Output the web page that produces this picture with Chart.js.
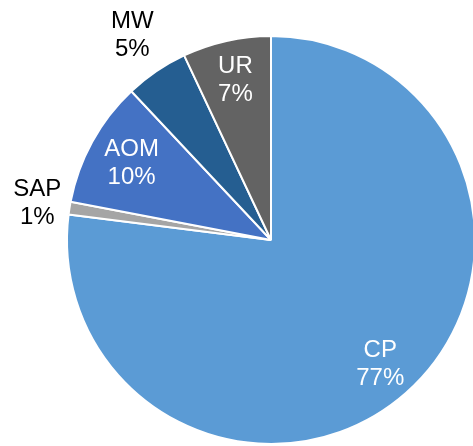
<!DOCTYPE html>
<html>
<head>
<meta charset="utf-8">
<script src="https://cdn.jsdelivr.net/npm/chart.js@4/dist/chart.umd.min.js"></script>
<style>
  html, body { margin: 0; padding: 0; background: #fff; overflow: hidden; }
  #wrap { position: absolute; left: 0; top: 0; width: 542px; height: 480px; }
</style>
</head>
<body>
<div id="wrap"><canvas id="mycanvas" width="542" height="480"></canvas></div>
<script>
var labels = ['CP', 'SAP', 'AOM', 'MW', 'UR'];
var shares = [77, 1, 10, 5, 7];
var colors = ['#5B9BD5', '#A5A5A5', '#4472C4', '#255E91', '#636363'];

// where each label sits, as a fraction of the radius, and its colour
var labelRadius = [0.81, 1.16, 0.78, 1.21, 0.80];
var labelColor = ['#fff', '#000', '#fff', '#000', '#fff'];

var sliceLabels = {
	id: 'sliceLabels',
	afterDatasetsDraw: function(chart) {
		var ctx = chart.ctx;
		var arcs = chart.getDatasetMeta(0).data;
		ctx.save();
		ctx.font = '24px "Liberation Sans", Arial, sans-serif';
		ctx.textAlign = 'center';
		ctx.textBaseline = 'middle';
		arcs.forEach(function(arc, i) {
			var mid = (arc.startAngle + arc.endAngle) / 2;
			var r = arc.outerRadius * labelRadius[i];
			var x = arc.x + Math.cos(mid) * r;
			var y = arc.y + Math.sin(mid) * r;
			ctx.fillStyle = labelColor[i];
			ctx.fillText(labels[i], x, y - 14);
			ctx.fillText(shares[i] + '%', x, y + 14);
		});
		ctx.restore();
	}
};

new Chart(document.getElementById('mycanvas'), {
	type: 'pie',
	data: {
		labels: labels,
		datasets: [{
			data: shares,
			backgroundColor: colors,
			borderColor: '#fff',
			borderWidth: 2
		}]
	},
	options: {
		responsive: false,
		animation: false,
		layout: { padding: { left: 35, right: 35, top: 35, bottom: 35 } },
		plugins: {
			legend: { display: false },
			tooltip: { enabled: false }
		}
	},
	plugins: [sliceLabels]
});
</script>
</body>
</html>
